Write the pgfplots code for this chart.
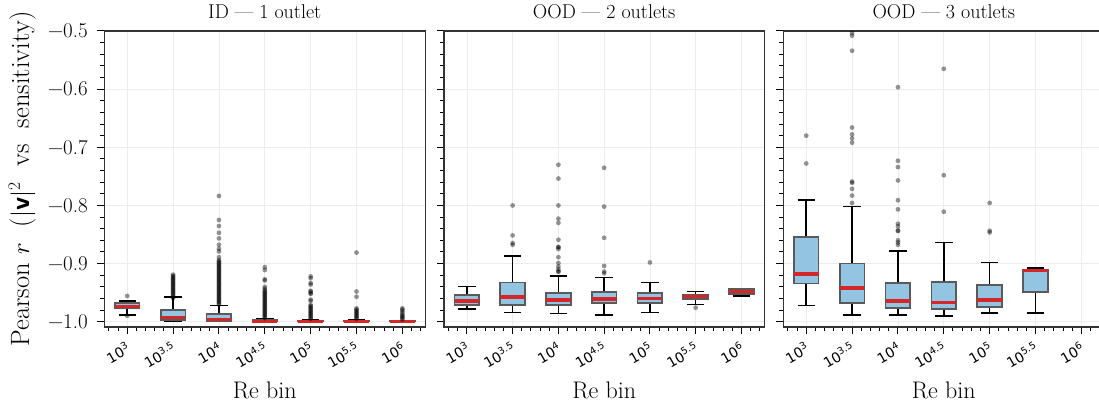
\documentclass[border=0pt]{standalone}
\usepackage{fontspec}
\newfontfamily\djsans{DejaVu Sans}
\usepackage{pgfplots}
\pgfplotsset{compat=1.18}
\usepgfplotslibrary{statistics}
\definecolor{boxfill}{RGB}{147,197,227}
\definecolor{boxedge}{RGB}{90,90,90}
\definecolor{medred}{RGB}{214,39,40}
\definecolor{spine}{RGB}{51,51,51}

\pgfplotsset{
  panel/.style={
    scale only axis, width=321pt, height=296pt, anchor=south west,
    xmin=2.75, xmax=6.25, ymin=-1.009, ymax=-0.5,
    xtick={3,3.5,4,4.5,5,5.5,6},
    xticklabels={10\textsuperscript{3},10\textsuperscript{3.5},10\textsuperscript{4},10\textsuperscript{4.5},10\textsuperscript{5},10\textsuperscript{5.5},10\textsuperscript{6}},
    minor xtick={2.8,2.9,3.1,3.2,3.3,3.4,3.6,3.7,3.8,3.9,4.1,4.2,4.3,4.4,4.6,4.7,4.8,4.9,5.1,5.2,5.3,5.4,5.6,5.7,5.8,5.9,6.1,6.2},
    ytick={-1,-0.9,-0.8,-0.7,-0.6,-0.5},
    minor ytick={-0.98,-0.96,-0.94,-0.92,-0.88,-0.86,-0.84,-0.82,-0.78,-0.76,-0.74,-0.72,-0.68,-0.66,-0.64,-0.62,-0.58,-0.56,-0.54,-0.52},
    tick align=outside, xtick pos=bottom, ytick pos=left,
    major tick length=7pt, minor tick length=4pt,
    tick style={black, line width=1pt},
    axis line style={spine, line width=1.3pt},
    grid=major, major grid style={gray!15, line width=0.7pt},
    yticklabel style={font=\fontsize{21}{21}\selectfont, xshift=-6pt},
    xticklabel style={font=\djsans\fontsize{14}{14}\selectfont, rotate=30, anchor=north east, inner sep=2pt, xshift=-3pt, yshift=-3pt},
  },
  rebox/.style={
    boxplot/draw direction=y,
    boxplot/box extend=0.27,
    boxplot/whisker extend=0.19,
    boxplot/every box/.style={draw=boxedge, fill=boxfill, line width=1.7pt},
    boxplot/every median/.style={draw=medred, line width=3.2pt},
    boxplot/every whisker/.style={draw=black, line width=1.6pt},
    mark=*, mark size=2.4pt, mark options={solid, draw opacity=0, fill=black, fill opacity=0.42},
  },
}

\begin{document}
\begin{tikzpicture}
\path[use as bounding box] (0pt,0pt) rectangle (1099pt,406pt);

% ---------- ID, 1 outlet ----------
\begin{axis}[panel, at={(104.3pt,79pt)}, yticklabels={−1.0,−0.9,−0.8,−0.7,−0.6,−0.5}]
\addplot[rebox, boxplot prepared={draw position=3, median=-0.9735, upper quartile=-0.968, lower quartile=-0.977, upper whisker=-0.964, lower whisker=-0.988}]
  table[row sep=\\, y index=0] {-0.9556\\ -0.9897\\};
\addplot[rebox, boxplot prepared={draw position=3.5, median=-0.992, upper quartile=-0.980, lower quartile=-0.9965, upper whisker=-0.957, lower whisker=-0.9995}]
  table[row sep=\\, y index=0] {-0.919\\ -0.921\\ -0.923\\ -0.925\\ -0.927\\ -0.929\\ -0.931\\ -0.933\\ -0.935\\ -0.937\\ -0.939\\ -0.941\\ -0.943\\ -0.945\\ -0.947\\ -0.949\\ -0.951\\ -0.953\\ -0.955\\ -0.958\\ -0.959\\};
\addplot[rebox, boxplot prepared={draw position=4, median=-0.996, upper quartile=-0.987, lower quartile=-0.9988, upper whisker=-0.9717, lower whisker=-0.9995}]
  table[row sep=\\, y index=0] {-0.7836\\ -0.825\\ -0.8353\\ -0.847\\ -0.8567\\ -0.8676\\ -0.8745\\ -0.879\\ -0.889\\
  -0.894\\ -0.896\\ -0.898\\ -0.900\\ -0.902\\ -0.904\\ -0.906\\ -0.908\\ -0.910\\ -0.912\\ -0.914\\ -0.916\\ -0.918\\ -0.920\\ -0.922\\ -0.924\\ -0.926\\ -0.928\\ -0.930\\ -0.932\\ -0.934\\ -0.936\\ -0.938\\ -0.940\\ -0.942\\ -0.944\\ -0.946\\ -0.948\\ -0.950\\ -0.952\\ -0.954\\ -0.956\\ -0.958\\ -0.960\\ -0.962\\ -0.964\\ -0.966\\ -0.968\\ -0.970\\};
\addplot[rebox, boxplot prepared={draw position=4.5, median=-0.999, upper quartile=-0.9975, lower quartile=-0.9995, upper whisker=-0.995, lower whisker=-1.0}]
  table[row sep=\\, y index=0] {-0.906\\ -0.911\\ -0.927\\ -0.929\\ -0.940\\ -0.943\\ -0.946\\ -0.948\\ -0.950\\ -0.952\\ -0.954\\ -0.956\\ -0.958\\ -0.960\\ -0.962\\ -0.964\\ -0.966\\ -0.968\\ -0.970\\ -0.972\\ -0.974\\ -0.976\\ -0.978\\ -0.980\\ -0.982\\ -0.984\\ -0.986\\ -0.988\\ -0.990\\ -0.992\\ -0.994\\};
\addplot[rebox, boxplot prepared={draw position=5, median=-0.999, upper quartile=-0.998, lower quartile=-0.9995, upper whisker=-0.997, lower whisker=-1.0}]
  table[row sep=\\, y index=0] {-0.922\\ -0.925\\ -0.9335\\ -0.936\\ -0.947\\ -0.948\\ -0.951\\ -0.952\\ -0.962\\ -0.964\\ -0.971\\ -0.973\\ -0.975\\ -0.977\\ -0.979\\ -0.981\\ -0.983\\ -0.985\\ -0.987\\ -0.989\\ -0.991\\ -0.993\\ -0.995\\};
\addplot[rebox, boxplot prepared={draw position=5.5, median=-0.999, upper quartile=-0.998, lower quartile=-0.9995, upper whisker=-0.997, lower whisker=-1.0}]
  table[row sep=\\, y index=0] {-0.881\\ -0.948\\ -0.957\\ -0.977\\ -0.979\\ -0.981\\ -0.983\\ -0.985\\ -0.987\\ -0.989\\ -0.991\\ -0.993\\ -0.995\\};
\addplot[rebox, boxplot prepared={draw position=6, median=-0.999, upper quartile=-0.9985, lower quartile=-0.9995, upper whisker=-0.998, lower whisker=-1.0}]
  table[row sep=\\, y index=0] {-0.977\\ -0.979\\ -0.982\\ -0.985\\ -0.988\\ -0.990\\ -0.992\\ -0.994\\ -0.996\\};
\end{axis}

% ---------- OOD, 2 outlets ----------
\begin{axis}[panel, at={(444pt,79pt)}, width=320.3pt, yticklabels={}]
\addplot[rebox, boxplot prepared={draw position=3, median=-0.9643, upper quartile=-0.954, lower quartile=-0.9707, upper whisker=-0.9395, lower whisker=-0.978}]
  coordinates {};
\addplot[rebox, boxplot prepared={draw position=3.5, median=-0.9574, upper quartile=-0.9327, lower quartile=-0.971, upper whisker=-0.887, lower whisker=-0.9838}]
  table[row sep=\\, y index=0] {-0.800\\ -0.8515\\ -0.8647\\ -0.8676\\};
\addplot[rebox, boxplot prepared={draw position=4, median=-0.9625, upper quartile=-0.950, lower quartile=-0.9707, upper whisker=-0.921, lower whisker=-0.9855}]
  table[row sep=\\, y index=0] {-0.730\\ -0.7537\\ -0.800\\ -0.8227\\ -0.830\\ -0.859\\ -0.8716\\ -0.8716\\ -0.875\\ -0.889\\ -0.899\\ -0.905\\ -0.9096\\ -0.9137\\ -0.9137\\};
\addplot[rebox, boxplot prepared={draw position=4.5, median=-0.961, upper quartile=-0.9493, lower quartile=-0.968, upper whisker=-0.924, lower whisker=-0.9884}]
  table[row sep=\\, y index=0] {-0.7353\\ -0.802\\ -0.8556\\ -0.904\\ -0.9137\\ -0.9166\\};
\addplot[rebox, boxplot prepared={draw position=5, median=-0.9597, upper quartile=-0.951, lower quartile=-0.968, upper whisker=-0.9327, lower whisker=-0.9838}]
  table[row sep=\\, y index=0] {-0.898\\};
\addplot[rebox, boxplot prepared={draw position=5.5, median=-0.9568, upper quartile=-0.9533, lower quartile=-0.961, upper whisker=-0.948, lower whisker=-0.970}]
  table[row sep=\\, y index=0] {-0.9758\\};
\addplot[rebox, boxplot prepared={draw position=6, median=-0.948, upper quartile=-0.944, lower quartile=-0.9527, upper whisker=-0.9435, lower whisker=-0.956}]
  coordinates {};
\end{axis}

% ---------- OOD, 3 outlets ----------
\begin{axis}[panel, at={(783.3pt,79pt)}, yticklabels={}]
\addplot[rebox, boxplot prepared={draw position=3, median=-0.9177, upper quartile=-0.8538, lower quartile=-0.9344, upper whisker=-0.7911, lower whisker=-0.9723}]
  table[row sep=\\, y index=0] {-0.680\\ -0.7278\\};
\addplot[rebox, boxplot prepared={draw position=3.5, median=-0.9418, upper quartile=-0.8999, lower quartile=-0.9677, upper whisker=-0.802, lower whisker=-0.9879}]
  table[row sep=\\, y index=0] {-0.5035\\ -0.508\\ -0.534\\ -0.666\\ -0.6778\\ -0.6847\\ -0.692\\ -0.7589\\ -0.761\\ -0.7715\\ -0.783\\ -0.7957\\};
\addplot[rebox, boxplot prepared={draw position=4, median=-0.9643, upper quartile=-0.9337, lower quartile=-0.9769, upper whisker=-0.878, lower whisker=-0.9884}]
  table[row sep=\\, y index=0] {-0.5967\\ -0.7232\\ -0.734\\ -0.757\\ -0.791\\ -0.8067\\ -0.8314\\ -0.836\\ -0.843\\ -0.844\\ -0.860\\ -0.8636\\ -0.8676\\};
\addplot[rebox, boxplot prepared={draw position=4.5, median=-0.9665, upper quartile=-0.9315, lower quartile=-0.978, upper whisker=-0.8636, lower whisker=-0.9897}]
  table[row sep=\\, y index=0] {-0.565\\ -0.748\\ -0.8107\\};
\addplot[rebox, boxplot prepared={draw position=5, median=-0.9625, upper quartile=-0.9367, lower quartile=-0.9746, upper whisker=-0.898, lower whisker=-0.985}]
  table[row sep=\\, y index=0] {-0.7957\\ -0.8435\\ -0.8464\\};
\addplot[rebox, boxplot prepared={draw position=5.5, median=-0.9125, upper quartile=-0.910, lower quartile=-0.9487, upper whisker=-0.9073, lower whisker=-0.9845}]
  coordinates {};
\end{axis}

% titles and axis labels
\node[anchor=base, font=\fontsize{20}{20}\selectfont] at (264.7pt,387.5pt) {ID --- 1 outlet};
\node[anchor=base, font=\fontsize{20}{20}\selectfont] at (604.2pt,387.5pt) {OOD --- 2 outlets};
\node[anchor=base, font=\fontsize{20}{20}\selectfont] at (943.8pt,387.5pt) {OOD --- 3 outlets};
\foreach \cx in {264.7,604.2,943.8}
  \node[anchor=base, font=\fontsize{24}{24}\selectfont] at (\cx pt,7.5pt) {Re bin};
\node[rotate=90, anchor=base, font=\fontsize{26.5}{26.5}\selectfont] at (29pt,227pt)
  {Pearson $r$\ \ ($|\textsf{\textbf{v}}|^2$\ \ vs\ \ sensitivity)};
\end{tikzpicture}
\end{document}
